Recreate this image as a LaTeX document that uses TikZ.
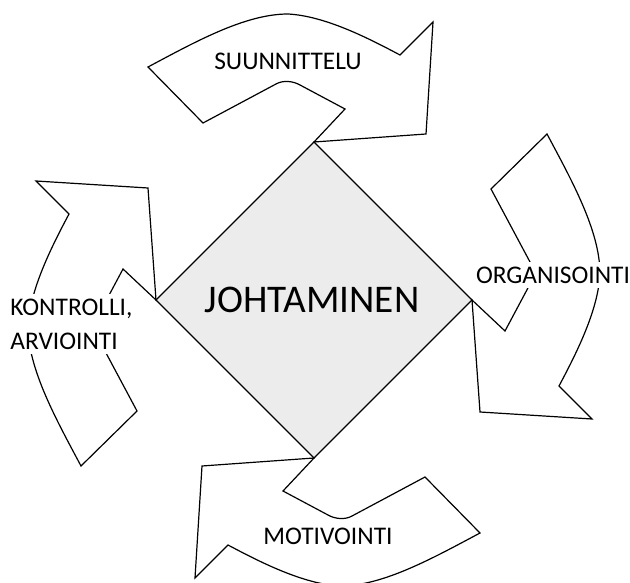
\documentclass[tikz,border=0pt]{standalone}
\usepackage{fontspec}
\setmainfont{Carlito}
\usepackage{tikz}

\begin{document}
\begin{tikzpicture}[x=0.5pt, y=-0.5pt,
    nuoli/.style={draw, fill=white, line width=0.6pt, line join=miter},
    ruutu/.style={draw, fill=gray!15, line width=0.6pt},
    vaihe/.style={fill=white, inner sep=2.5pt, font=\fontsize{12.7pt}{17pt}\selectfont},
    otsikko/.style={inner sep=0pt, font=\fontsize{19.6pt}{23pt}\selectfont}]
  \useasboundingbox (0,0) rectangle (630,582);

  % Keskikohta
  \coordinate (K) at (314,300);

  % Neliö keskellä
  \draw[ruutu] (314,142) -- (472,300) -- (314,458) -- (156,300) -- cycle;

  % Nuolet, kierretty keskikohdan ympäri
  \foreach \kulma in {0,-90,-180,-270}{
    \begin{scope}[rotate around={\kulma:(K)}]
      \draw[nuoli] (148,67) .. controls (195,42) and (245,14) .. (288,14)
        .. controls (325,16) and (368,38) .. (400,55)
        -- (433,22) -- (426,134) -- (314,142) -- (345,109) -- (300,85)
        .. controls (293,81) and (283,80) .. (276,84) -- (203,123) -- cycle;
    \end{scope}
  }

  % Tekstit
  \node[otsikko] (johtaminen) at (312,300) {JOHTAMINEN};
  \node[vaihe] (suunnittelu) at (288,61) {SUUNNITTELU};
  \node[vaihe] (organisointi) at (553,275) {ORGANISOINTI};
  \node[vaihe] (motivointi) at (328,536) {MOTIVOINTI};
  \node[vaihe, anchor=west, align=left] (kontrolli) at (5,324) {KONTROLLI,\\ARVIOINTI};
\end{tikzpicture}
\end{document}
